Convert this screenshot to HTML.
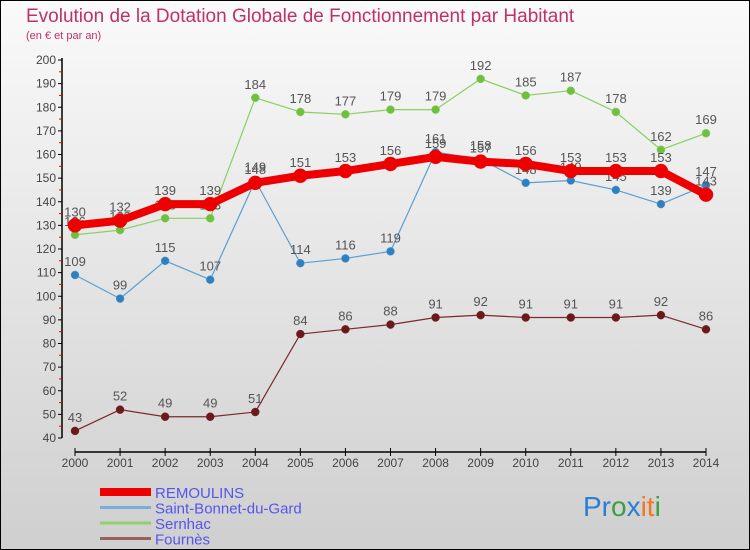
<!DOCTYPE html>
<html><head><meta charset="utf-8"><style>
body{margin:0}
svg{display:block;font-family:"Liberation Sans","DejaVu Sans",sans-serif}
</style></head><body>
<svg id="c" width="750" height="550">
<defs><linearGradient id="bg" x1="0" y1="0" x2="0" y2="1"><stop offset="0" stop-color="#fafafa"/><stop offset="1" stop-color="#cfcfcf"/></linearGradient></defs>
<rect x="0.5" y="0.5" width="749" height="549" fill="url(#bg)" stroke="#000"/>
<text x="26" y="22" font-size="19" fill="#c0306a">Evolution de la Dotation Globale de Fonctionnement par Habitant</text>
<text x="26" y="39" font-size="11" fill="#c0306a">(en € et par an)</text>
<g id="axes"></g><g id="series"></g><g id="legend"></g>
<text x="583" y="516" font-size="28"><tspan fill="#2a7fd0">Pr</tspan><tspan fill="#3aa040">o</tspan><tspan fill="#2a7fd0">x</tspan><tspan fill="#f07820">it</tspan><tspan fill="#3aa040">i</tspan></text>
</svg>
<script>
const years=[2000,2001,2002,2003,2004,2005,2006,2007,2008,2009,2010,2011,2012,2013,2014];
const remoulins=[130,132,139,139,148,151,153,156,159,157,156,153,153,153,143];
const stBonnet=[109,99,115,107,149,114,116,119,161,158,148,149,145,139,147];
const sernhac=[126,128,133,133,184,178,177,179,179,192,185,187,178,162,169];
const fournes=[43,52,49,49,51,84,86,88,91,92,91,91,91,92,86];
const yTicks=[40,50,60,70,80,90,100,110,120,130,140,150,160,170,180,190,200];
const NS="http://www.w3.org/2000/svg";
const X=i=>75+i*(706-75)/14;
const Y=v=>438-(v-40)*(378/160);
function mk(p,t,a){const e=document.createElementNS(NS,t);for(const k in a)e.setAttribute(k,a[k]);p.appendChild(e);return e;}
const ax=document.getElementById('axes');
let l=mk(ax,'line',{x1:62,y1:58,x2:62,y2:Y(40),stroke:'#000','stroke-width':1.5});


yTicks.forEach(v=>{
 let t=mk(ax,'line',{x1:58,y1:Y(v),x2:62,y2:Y(v),stroke:'#000'});
 
 
 if(v<200){let m=mk(ax,'line',{x1:59,y1:Y(v+5),x2:62,y2:Y(v+5),stroke:'#e00'});
 
 }
 let tx=mk(ax,'text',{x:56,y:Y(v)+4,'font-size':12,'text-anchor':'end',fill:'#444'});
 tx.textContent=v;
 
 
});
l=mk(ax,'line',{x1:75,y1:452,x2:706,y2:452,stroke:'#000','stroke-width':1.5});


years.forEach((y,i)=>{
 let t=mk(ax,'line',{x1:X(i),y1:448,x2:X(i),y2:456,stroke:'#000'});
 
 
 let tx=mk(ax,'text',{x:X(i),y:467,'font-size':12,'text-anchor':'middle',fill:'#444'});
 tx.textContent=y;
 
 
});
const sg=document.getElementById('series');
function draw(vals,name,col,dot,w,r){
 const g=mk(sg,'g',{});
 
 
 const p=mk(g,'polyline',{points:vals.map((v,i)=>X(i)+','+Y(v)).join(' '),fill:'none',stroke:col,'stroke-width':w,'stroke-linejoin':'round'});
 
 
 vals.forEach((v,i)=>{
  const c=mk(g,'circle',{cx:X(i),cy:Y(v),r:r,fill:dot,stroke:col,'stroke-width':0.5});
  
  
  const t=mk(g,'text',{x:X(i),y:Y(v)-9,'font-size':13,'text-anchor':'middle',fill:'#555'});
  t.textContent=v;
  
  
 });
}
draw(fournes,'fournes','#7a2a2a','#6a1a1a',1.2,4);
draw(sernhac,'sernhac','#88d060','#70c040',1.2,4);
draw(stBonnet,'saint-bonnet','#5a9fd0','#3080c0',1.2,4);
draw(remoulins,'remoulins','#ee0000','#ee0000',8,7);
const lg=document.getElementById('legend');
const items=[['REMOULINS','#ee0000',8],['Saint-Bonnet-du-Gard','#7aaed8',3],['Sernhac','#90d070',3],['Fournès','#9a6060',3]];
items.forEach((it,i)=>{
 const y=492+i*15.5;
 const ln=mk(lg,'line',{x1:100,y1:y,x2:151,y2:y,stroke:it[1],'stroke-width':it[2]});
 
 
 const t=mk(lg,'text',{x:155,y:y+6,'font-size':15,fill:'#5555ee'});
 t.textContent=it[0];
 
 
});
</script>
</body></html>
